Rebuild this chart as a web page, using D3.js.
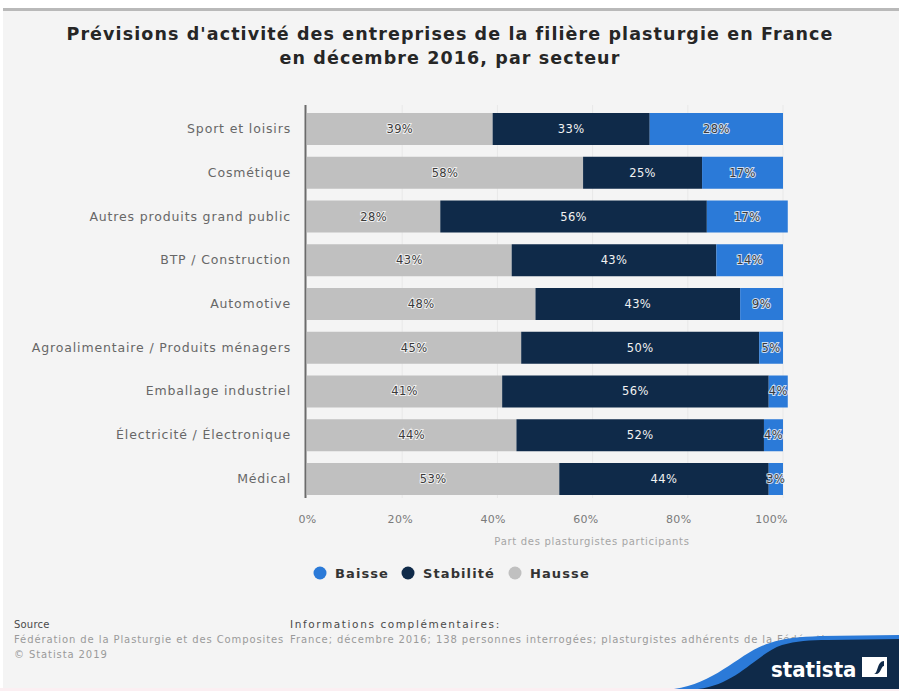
<!DOCTYPE html>
<html lang="fr">
<head>
<meta charset="utf-8">
<script src="https://cdn.jsdelivr.net/npm/d3@7"></script>
<style>
  html, body { margin: 0; padding: 0; background: #ffffff; }
  svg { display: block; font-family: "DejaVu Sans", Verdana, sans-serif; }
</style>
</head>
<body>
<svg id="chart" width="899" height="691"></svg>
<script>
// Sectors, top to bottom
const categories = [
  "Sport et loisirs",
  "Cosmétique",
  "Autres produits grand public",
  "BTP / Construction",
  "Automotive",
  "Agroalimentaire / Produits ménagers",
  "Emballage industriel",
  "Électricité / Électronique",
  "Médical"
];
// Share of respondents (%) per outlook
const hausse    = [39, 58, 28, 43, 48, 45, 41, 44, 53];
const stabilite = [33, 25, 56, 43, 43, 50, 56, 52, 44];
const baisse    = [28, 17, 17, 14,  9,  5,  4,  4,  3];

const seriesNames = ["Hausse", "Stabilité", "Baisse"];
const legendOrder = ["Baisse", "Stabilité", "Hausse"];
const xTicks = [0, 20, 40, 60, 80, 100];

const colors = { "Hausse": "#c0c0c0", "Stabilité": "#0f2a49", "Baisse": "#2b7ad8" };

const svg = d3.select("#chart");

// Panel background with top shadow line
svg.append("rect").attr("x", 3).attr("y", 10).attr("width", 896).attr("height", 678).attr("fill", "#f4f4f4");
svg.append("rect").attr("x", 3).attr("y", 8).attr("width", 896).attr("height", 3).attr("fill", "#b9b9b9");
svg.append("rect").attr("x", 0).attr("y", 688).attr("width", 899).attr("height", 3).attr("fill", "#fbeff2");

// Title
const title = svg.append("text")
  .attr("text-anchor", "middle")
  .attr("font-size", 17.5).attr("font-weight", "bold").attr("fill", "#262626")
  .attr("letter-spacing", 1.1);
title.append("tspan").attr("x", 450).attr("y", 40)
  .text("Prévisions d'activité des entreprises de la filière plasturgie en France");
title.append("tspan").attr("x", 450).attr("y", 64)
  .text("en décembre 2016, par secteur");

// Scales
const x = d3.scaleLinear().domain([0, 100]).range([307, 783]);
const y = d3.scaleBand().domain(categories).range([101.25, 506.75]).paddingInner(0.2686).paddingOuter(0.2686);

// Gridlines
svg.append("g").selectAll("line").data(xTicks.slice(1)).join("line")
  .attr("x1", d => x(d)).attr("x2", d => x(d))
  .attr("y1", 105).attr("y2", 498)
  .attr("stroke", "#e8e8e8").attr("stroke-width", 1);

// Stacked data
const rows = categories.map((c, i) => ({ cat: c, "Hausse": hausse[i], "Stabilité": stabilite[i], "Baisse": baisse[i] }));
const stack = d3.stack().keys(seriesNames)(rows);

const layers = svg.append("g").selectAll("g").data(stack).join("g")
  .attr("fill", d => colors[d.key]);
layers.selectAll("rect").data(d => d).join("rect")
  .attr("x", d => x(d[0]))
  .attr("y", d => y(d.data.cat))
  .attr("width", d => x(d[1]) - x(d[0]))
  .attr("height", y.bandwidth());

// Value labels
const labels = svg.append("g").attr("font-size", 11.5).attr("text-anchor", "middle").attr("letter-spacing", 0.4);
stack.forEach(layer => {
  const dark = layer.key === "Stabilité";
  labels.selectAll(null).data(layer).join("text")
    .attr("x", d => (x(d[0]) + x(d[1])) / 2)
    .attr("y", d => y(d.data.cat) + y.bandwidth() / 2 + 4)
    .attr("fill", dark ? "#f2f2f2" : "#3a3a3a")
    .attr("stroke", dark ? "none" : "#ffffff")
    .attr("stroke-width", dark ? 0 : 2)
    .attr("stroke-opacity", 0.75)
    .attr("paint-order", "stroke")
    .text(d => (d[1] - d[0]) + "%");
});

// Y axis line and category labels
svg.append("line").attr("x1", 305.5).attr("x2", 305.5).attr("y1", 105).attr("y2", 498)
  .attr("stroke", "#6b6b6b").attr("stroke-width", 2);
svg.append("g").selectAll("text").data(categories).join("text")
  .attr("x", 291).attr("y", d => y(d) + y.bandwidth() / 2 + 4)
  .attr("text-anchor", "end").attr("font-size", 12.5).attr("fill", "#676767")
  .attr("letter-spacing", 0.85)
  .text(d => d);

// X axis
const xAxis = svg.append("g").attr("transform", "translate(0,501)")
  .call(d3.axisBottom(x).tickValues(xTicks).tickSize(0).tickPadding(14).tickFormat(d => d + "%"));
xAxis.select(".domain").remove();
xAxis.selectAll("text").attr("font-size", 11).attr("fill", "#7a7a7a")
  .attr("font-family", "\"DejaVu Sans\", sans-serif")
  .attr("letter-spacing", 0.3)
  .attr("dx", d => -d * 0.12);

svg.append("text").attr("x", 592).attr("y", 545).attr("text-anchor", "middle")
  .attr("font-size", 10).attr("letter-spacing", 0.7).attr("fill", "#a5a5a5")
  .text("Part des plasturgistes participants");

// Legend
const legendX = [320, 408, 515];
const legend = svg.append("g").selectAll("g").data(legendOrder).join("g")
  .attr("transform", (d, i) => `translate(${legendX[i]},573)`);
legend.append("circle").attr("r", 6.5).attr("fill", d => colors[d]);
legend.append("text").attr("x", 15).attr("y", 5)
  .attr("font-size", 13).attr("font-weight", "bold").attr("fill", "#333333")
  .attr("letter-spacing", 1.1)
  .text(d => d);

// Footer
const foot = svg.append("g").attr("font-size", 10).attr("letter-spacing", 0.9);
foot.append("text").attr("x", 14).attr("y", 628).attr("fill", "#4a4a4a").attr("letter-spacing", 0.2).text("Source");
foot.append("text").attr("x", 14).attr("y", 643).attr("fill", "#9a9a9a")
  .text("Fédération de la Plasturgie et des Composites");
foot.append("text").attr("x", 14).attr("y", 658).attr("fill", "#9a9a9a")
  .text("© Statista 2019");
foot.append("text").attr("x", 290).attr("y", 628).attr("fill", "#4a4a4a").attr("font-size", 10.5)
  .attr("letter-spacing", 1.6)
  .text("Informations complémentaires:");
foot.append("text").attr("x", 290).attr("y", 643).attr("fill", "#9a9a9a")
  .text("France; décembre 2016; 138 personnes interrogées; plasturgistes adhérents de la Fédération");

// Brand wave
svg.append("path")
  .attr("d", "M 674 689 C 716 684, 740 652, 770 643 C 784 638, 800 637, 820 636 L 899 635 L 899 689 Z")
  .attr("fill", "#2b7ad8");
svg.append("path")
  .attr("d", "M 698 689 C 738 684, 756 654, 782 645 C 796 641, 810 640, 828 640 L 899 639 L 899 689 Z")
  .attr("fill", "#0f2a49");
svg.append("text").attr("x", 771).attr("y", 677)
  .attr("font-family", "\"DejaVu Sans Condensed\", \"DejaVu Sans\", sans-serif")
  .attr("font-size", 22).attr("font-weight", "bold").attr("fill", "#ffffff")
  .text("statista");
const logo = svg.append("g").attr("transform", "translate(862,657)");
logo.append("rect").attr("width", 25).attr("height", 20).attr("fill", "#ffffff");
logo.append("path").attr("d", "M 3 17 L 12 17 C 16 17, 15 4, 22 4 L 22 9 C 19 9, 19 17, 14 17 Z")
  .attr("fill", "#0f2a49");
</script>
</body>
</html>
